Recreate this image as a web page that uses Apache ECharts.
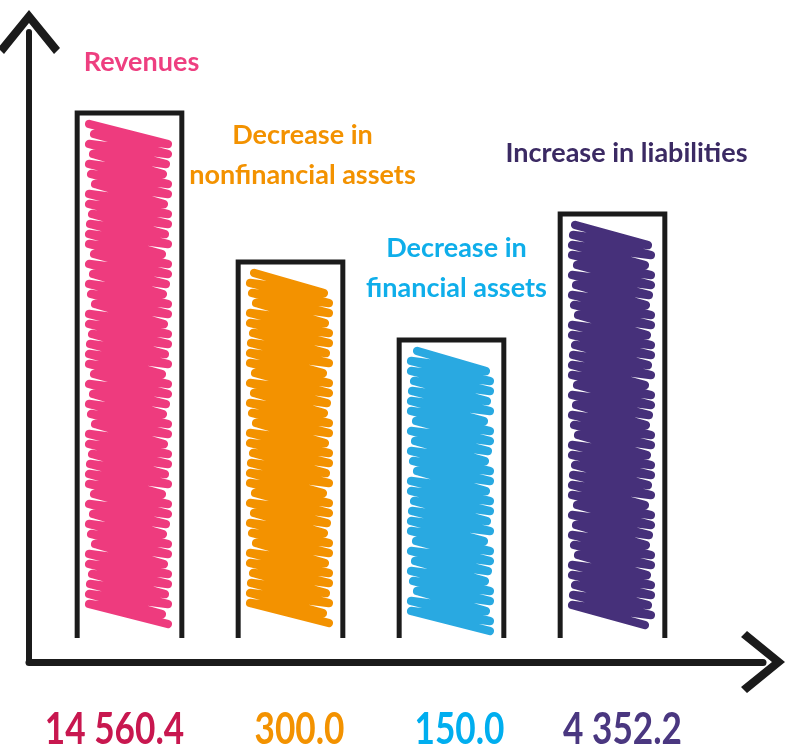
<!DOCTYPE html>
<html>
<head>
<meta charset="utf-8">
<script src="https://cdn.jsdelivr.net/npm/echarts@6/dist/echarts.min.js"></script>
<style>
  html, body { margin: 0; padding: 0; background: #ffffff; }
  #chart { width: 787px; height: 754px; }
</style>
</head>
<body>
<div id="chart"></div>
<script>
// ---- data ----
const categories = ['Revenues', 'Decrease in\nnonfinancial assets', 'Decrease in\nfinancial assets', 'Increase in liabilities'];
const amounts = [14560.4, 300.0, 150.0, 4352.2];
// drawn bar heights (illustrative, arbitrary units)
const barHeights = [527, 378, 300, 426];

// ---- style ----
const FONT = 'Lato, "Open Sans", sans-serif';
const scribbleColors = ['#EE3B7E', '#F39200', '#29A9E1', '#46307A'];
const nameColors = ['#EE3F80', '#F39200', '#0FAEEA', '#3B2A63'];
const valueColors = ['#C8174F', '#F39200', '#00AEEF', '#4A3780'];
const nameShiftX = [12, 12, 5, 14];
const nameLift = [31, 67, 32, 41];
const valueShiftX = [-15, 9, 8, 10];
const VALUE_DY = 90;
const VALUE_SCALE = 0.8;
const NAME_SCALE = 1.0;
const jitter = [0, 5, -3, 4, -6, 2, 6, -2, -5, 3, 1, -4];
const INK = '#1b1b1b';
const ARROW = 'path://M31,0 L62,38 L56,44 L31,13 L6,44 L0,38 Z';

function fmt(v) {
  const s = v.toFixed(1);
  const [ip, dp] = s.split('.');
  return ip.replace(/\B(?=(\d{3})+(?!\d))/g, ' ') + '.' + dp;
}

const chart = echarts.init(document.getElementById('chart'), null, { renderer: 'canvas' });

chart.setOption({
  backgroundColor: '#ffffff',
  animation: false,
  grid: [
    { left: 49, right: 94, top: 40, bottom: 114 },
    { left: 29, right: 24, top: 32, bottom: 92 }
  ],
  xAxis: [
    { type: 'category', gridIndex: 0, data: categories, show: false },
    {
      type: 'value', gridIndex: 1, min: 0, max: 1,
      axisLabel: { show: false }, axisTick: { show: false }, splitLine: { show: false },
      axisLine: { show: true, symbol: ['none', ARROW], symbolSize: [62, 44],
        lineStyle: { color: INK, width: 7, cap: 'round' } }
    }
  ],
  yAxis: [
    { type: 'value', gridIndex: 0, min: 0, max: 600, show: false },
    {
      type: 'value', gridIndex: 1, min: 0, max: 1,
      axisLabel: { show: false }, axisTick: { show: false }, splitLine: { show: false },
      axisLine: { show: true, symbol: ['none', ARROW], symbolSize: [62, 44],
        lineStyle: { color: INK, width: 6, cap: 'round' } }
    }
  ],
  series: [
    { type: 'line', xAxisIndex: 1, yAxisIndex: 1, data: [], silent: true },
    {
      type: 'custom', xAxisIndex: 0, yAxisIndex: 0,
      data: barHeights.map((h, i) => [i, h]),
      encode: { x: 0, y: 1 },
      renderItem: function (params, api) {
        const i = params.dataIndex;
        const top = api.coord([api.value(0), api.value(1)]);
        const base = api.coord([api.value(0), 0]);
        const band = api.size([1, 0])[0];
        const w = band * 0.65;
        const x0 = top[0] - w / 2, x1 = top[0] + w / 2;
        const il = x0 + 12, ir = x1 - 14;
        const pts = [];
        let y = top[1] + 11;
        const yEnd = base[1] - 9;
        let k = i * 3;
        while (y + 20 <= yEnd) {
          const jl = jitter[k % jitter.length];
          const jr = jitter[(k + 5) % jitter.length];
          pts.push([il + Math.max(0, jl), y]);
          pts.push([ir + Math.min(0, jr), y + 20]);
          y += 10;
          k++;
        }
        return {
          type: 'group',
          children: [
            {
              type: 'polyline',
              shape: { points: pts },
              style: { stroke: scribbleColors[i], lineWidth: 8.5, lineCap: 'round', lineJoin: 'round', fill: null }
            },
            {
              type: 'polyline',
              shape: { points: [[x0, base[1] - 2], [x0, top[1]], [x1, top[1]], [x1, base[1] - 2]] },
              style: { stroke: INK, lineWidth: 5, lineJoin: 'miter', fill: null }
            },
            {
              type: 'text',
              x: top[0] + nameShiftX[i],
              y: top[1] - nameLift[i],
              scaleX: NAME_SCALE,
              style: {
                text: categories[i], x: 0, y: 0,
                align: 'center', verticalAlign: 'bottom',
                fill: nameColors[i],
                font: 'bold 27px ' + FONT,
                lineHeight: 40
              }
            },
            {
              type: 'text',
              x: top[0] + valueShiftX[i],
              y: base[1] + VALUE_DY,
              scaleX: VALUE_SCALE,
              style: {
                text: fmt(amounts[i]), x: 0, y: 0,
                align: 'center', verticalAlign: 'middle',
                fill: valueColors[i],
                font: 'bold 44px ' + FONT
              }
            }
          ]
        };
      }
    }
  ]
});
</script>
</body>
</html>
